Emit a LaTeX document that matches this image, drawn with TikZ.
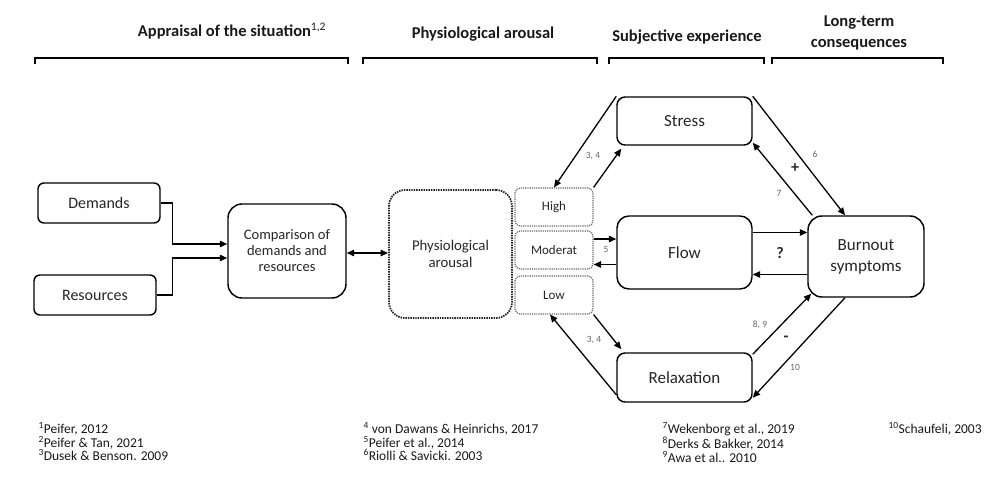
\documentclass[tikz,border=0pt]{standalone}
\usepackage{fontspec}
\setmainfont{Carlito}
\usetikzlibrary{arrows.meta}

\begin{document}
\begin{tikzpicture}[
    x=1pt, y=-1pt,
    every node/.style={font=\fontsize{17}{21}\selectfont, text=black!85},
    box/.style={draw, line width=1.45pt, rounded corners=8pt, align=center, inner sep=2pt},
    zone/.style={draw=black!60, densely dotted, line width=1.2pt, rounded corners=5pt,
        minimum width=78pt, minimum height=38pt, font=\fontsize{13}{15}\selectfont},
    arr/.style={-{Triangle[length=7.5pt,width=6.5pt]}, line width=1.3pt},
    ref/.style={text=black!60, font=\fontsize{9.5}{10}\selectfont},
    sign/.style={text=black!85, font=\fontsize{16}{17}\selectfont\bfseries},
    head/.style={font=\fontsize{16.5}{21}\selectfont\bfseries, anchor=base, align=center, text=black!90},
    note/.style={font=\fontsize{13.5}{13.5}\selectfont, anchor=north west, align=left, text=black!90},
    brace/.style={line width=1.5pt}]
    \useasboundingbox (0,0) rectangle (986,481);

    \node[head] (hApp) at (232,37) {Appraisal of the situation\textsuperscript{\mdseries 1,2}};
    \node[head] (hPhy) at (483,39) {Physiological arousal};
    \node[head] (hSub) at (687,42) {Subjective experience};
    \node[head] (hLong) at (859,48) {Long-term\\consequences};
    \draw[brace] (35,64) -- (35,58) -- (348,58) -- (348,64);
    \draw[brace] (363,64) -- (363,58) -- (597,58) -- (597,64);
    \draw[brace] (609,64) -- (609,58) -- (764,58) -- (764,64);
    \draw[brace] (772,64) -- (772,58) -- (943,58) -- (943,64);

    \node[box, rounded corners=6pt, minimum width=122pt, minimum height=40pt,
        font=\fontsize{16}{19}\selectfont] (dem) at (99,203) {Demands};
    \node[box, rounded corners=6pt, minimum width=122pt, minimum height=40pt,
        font=\fontsize{16}{19}\selectfont] (res) at (95,295) {Resources};
    \node[box, rounded corners=14pt, minimum width=118pt, minimum height=94pt,
        font=\fontsize{14.5}{16}\selectfont] (cmp) at (287,251)
        {Comparison of\\demands and\\resources};
    \node[box, draw=black!85, densely dotted, line width=1.8pt, rounded corners=16pt,
        minimum width=123pt, minimum height=128pt,
        font=\fontsize{14.8}{17}\selectfont] (phy) at (450.5,254) {Physiological\\arousal};
    \node[zone] (high) at (554,207) {High};
    \node[zone] (mod) at (554,250) {Moderat};
    \node[zone] (low) at (554,295) {Low};
    \node[box, minimum width=135pt, minimum height=48pt] (str) at (684.5,121) {Stress};
    \node[box, rounded corners=12pt, minimum width=135pt, minimum height=73pt] (flow) at (684.5,252.5) {Flow};
    \node[box, minimum width=135pt, minimum height=49pt] (rel) at (684.5,377.5) {Relaxation};
    \node[box, rounded corners=14pt, minimum width=116pt, minimum height=81pt] (bur) at (866,256.5) {Burnout\\symptoms};

    \draw[arr] (dem.east) -- ++(12,0) |- ([yshift=7pt]cmp.west);
    \draw[arr] (res.east) -- ++(16,0) |- ([yshift=-7pt]cmp.west);
    \draw[arr, {Triangle[length=7.5pt,width=6.5pt]}-{Triangle[length=7.5pt,width=6.5pt]}]
        ([yshift=-2pt]cmp.east) -- ([yshift=-2pt]cmp.east -| phy.west);

    \draw[arr] (str.north west) -- (high.north);
    \draw[arr] (high.north east) -- ([xshift=5pt,yshift=-3pt]str.south west);
    \draw[arr] ([yshift=11pt]mod.east) -- ([yshift=11pt]mod.east -| flow.west);
    \draw[arr] ([yshift=-12pt]flow.west) -- ([yshift=-12pt]flow.west -| mod.east);
    \draw[arr] (low.south east) -- ([xshift=5pt,yshift=3pt]rel.north west);
    \draw[arr] ([yshift=8pt]rel.south west) -- ([xshift=-4pt]low.south);

    \draw[arr] (str.north east) -- ([xshift=-21pt]bur.north);
    \draw[arr] ([xshift=5pt]bur.north west) -- ([yshift=3pt]str.south east);
    \draw[arr] ([yshift=20pt]flow.east) -- ([yshift=20pt]flow.east -| bur.west);
    \draw[arr] ([yshift=-18pt]bur.west) -- ([yshift=-18pt]bur.west -| flow.east);
    \draw[arr] ([yshift=-2pt]rel.north east) -- ([xshift=4pt,yshift=4pt]bur.south west);
    \draw[arr] ([xshift=-21pt]bur.south) -- ([yshift=5pt]rel.south east);

    \node[ref] (r34a) at (593,156) {3, 4};
    \node[ref] (r5) at (606,249) {5};
    \node[ref] (r34b) at (594,340) {3, 4};
    \node[ref] (r6) at (815,154) {6};
    \node[ref] (r7) at (779,193) {7};
    \node[ref] (r89) at (760,325) {8, 9};
    \node[ref] (r10) at (795,367) {10};
    \node[sign] (plus) at (795,168) {+};
    \node[sign] (ask) at (780,253) {?};
    \node[sign] (minus) at (786,339) {-};

    \node[note] (n1) at (35,419) {\textsuperscript{1}Peifer, 2012\\\textsuperscript{2}Peifer \& Tan, 2021\\\textsuperscript{3}Dusek \& Benson. 2009};
    \node[note] (n2) at (360,419) {\textsuperscript{4} von Dawans \& Heinrichs, 2017\\\textsuperscript{5}Peifer et al., 2014\\\textsuperscript{6}Riolli \& Savicki. 2003};
    \node[note] (n3) at (659,419) {\textsuperscript{7}Wekenborg et al., 2019\\\textsuperscript{8}Derks \& Bakker, 2014\\\textsuperscript{9}Awa et al.. 2010};
    \node[note] (n4) at (885,419) {\textsuperscript{10}Schaufeli, 2003};
\end{tikzpicture}
\end{document}
